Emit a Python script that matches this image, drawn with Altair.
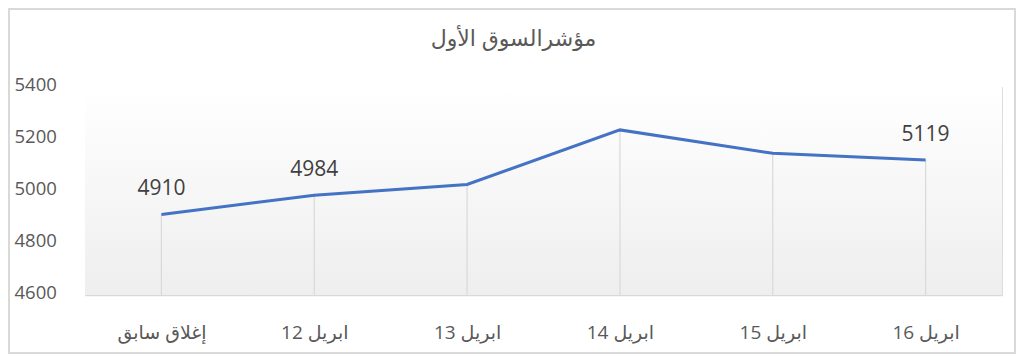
import altair as alt
import pandas as pd

categories = ["إغلاق سابق", "12 ابريل", "13 ابريل", "14 ابريل", "15 ابريل", "16 ابريل"]
values = [4910, 4984, 5025, 5235, 5145, 5119]
point_labels = ["4910", "4984", "", "", "", "5119"]
y_ticks = [4600, 4800, 5000, 5200, 5400]
title_text = "مؤشرالسوق الأول"

df = pd.DataFrame({"cat": categories, "v": values, "lbl": point_labels})

W, H = 917, 208
PL, PT, PR, PB = 77, 79, 14, 59
FONT = "Open Sans, DejaVu Sans"

xenc = alt.X("cat:N", sort=None, title=None,
             scale=alt.Scale(type="point", padding=0.5),
             axis=alt.Axis(labelAngle=0, ticks=False, tickSize=0, domain=True,
                           domainColor="#d9d9d9", domainWidth=1.5, grid=False,
                           labelFontSize=19, labelColor="#595959", labelFont=FONT,
                           labelPadding=37, labelBaseline="middle"))
yscale = alt.Scale(domain=[4600, 5400], nice=False, zero=False)
yenc = alt.Y("v:Q", scale=yscale, title=None,
             axis=alt.Axis(values=y_ticks, grid=False, domain=False, ticks=False, tickSize=0,
                           labelAlign="left", labelPadding=71, labelFontSize=18.5,
                           labelColor="#595959", labelFont=FONT, labelOffset=-3,
                           format="d"))

base = alt.Chart(df)

bg = alt.Chart(df).mark_rect(
    fill=alt.LinearGradient(gradient="linear", x1=0, y1=0, x2=0, y2=1,
                            stops=[alt.GradientStop(offset=0, color="#ffffff"),
                                   alt.GradientStop(offset=1, color="#eeeeee")]),
    opacity=1
).encode(x=alt.value(0), x2=alt.value(W), y=alt.value(0), y2=alt.value(H))

border = alt.Chart(df).mark_rect(
    fill=None, stroke="#d9d9d9", strokeWidth=2
).encode(x=alt.value(-PL + 1), x2=alt.value(W + PR - 1),
         y=alt.value(-PT + 1), y2=alt.value(H + PB - 1))

drops = base.mark_rule(color="#d9d9d9", strokeWidth=1.2).encode(
    x=xenc, y=yenc, y2=alt.datum(4600))

line = base.mark_line(color="#4472C4", strokeWidth=3).encode(x=xenc, y=yenc)

texts = base.mark_text(fontSize=21, color="#404040", font=FONT, dy=-25,
                       baseline="middle").encode(x=xenc, y=yenc, text="lbl:N")

chart = alt.layer(bg, border, drops, line, texts).properties(
    width=W, height=H,
    padding={"left": PL, "top": PT, "right": PR, "bottom": PB},
    autosize=alt.AutoSizeParams(type="none"),
    title=alt.TitleParams(title_text, fontSize=22, color="#595959", font=FONT,
                          fontWeight="normal", anchor="middle", frame="group",
                          dx=-30, offset=-53, baseline="middle"),
).configure_view(stroke=None).configure(background="white")

chart.save("out.html", embed_options={"renderer": "svg", "actions": False})
